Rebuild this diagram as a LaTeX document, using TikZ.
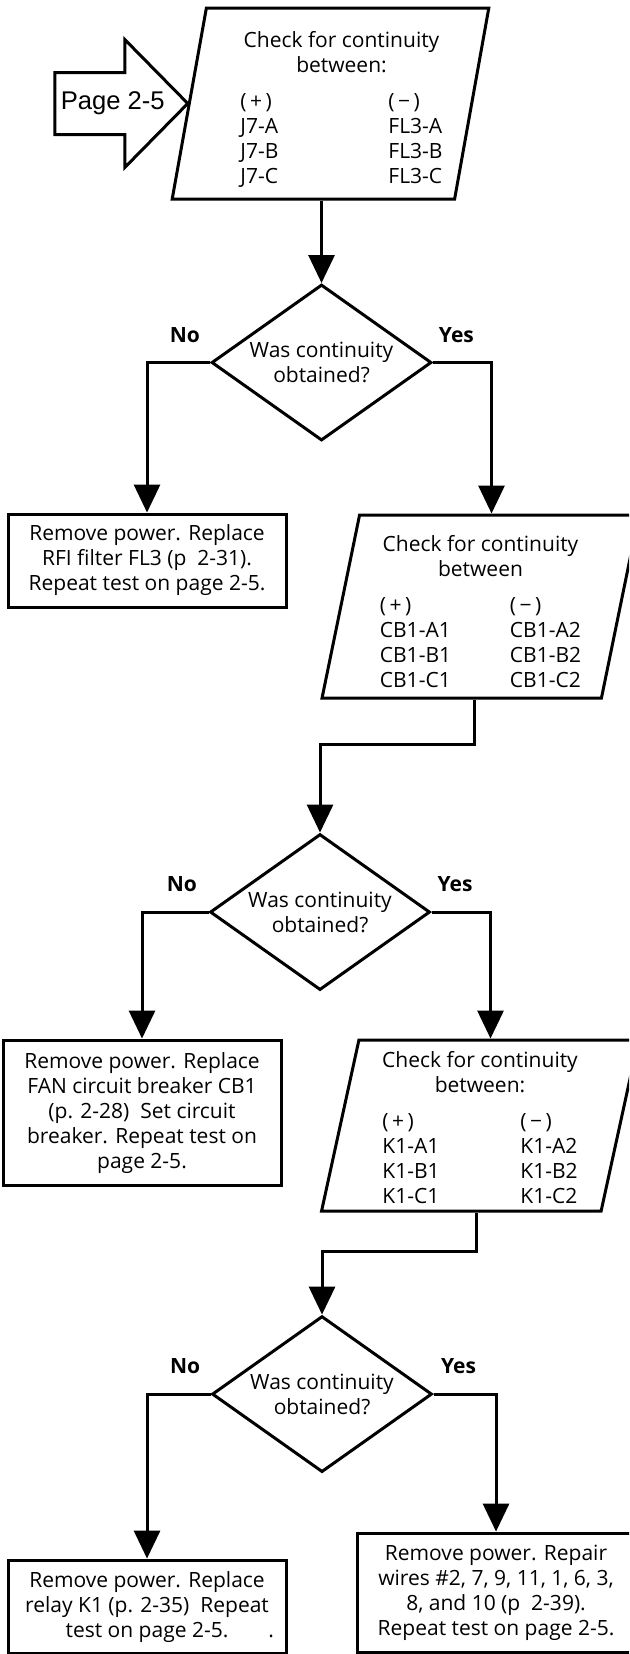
\documentclass[tikz,border=0pt]{standalone}
\usepackage{fontspec}
\setmainfont{Open Sans}
\newfontfamily\pagefont{Liberation Sans}
\usepackage{tikz}
\usetikzlibrary{arrows.meta,positioning,shapes.geometric}
\newcommand{\boxfont}{\fontsize{10.5pt}{12.5pt}\selectfont}
\tikzset{
  checkbox/.style={
    trapezium, trapezium left angle=80, trapezium right angle=100,
    trapezium stretches=true, draw, line width=1.5pt,
    minimum width=158.5pt, minimum height=#1, inner sep=0pt,
    font=\boxfont
  },
  fixbox/.style={
    rectangle, draw, line width=1.5pt, minimum width=139pt, minimum height=#1,
    align=center, inner sep=0pt, font=\boxfont
  },
  decision/.style={
    diamond, aspect=1.41, draw, line width=1.5pt, minimum width=110pt,
    minimum height=78pt, align=center, inner sep=0pt, font=\boxfont
  },
  flowarrow/.style={-{Triangle[length=14pt,width=13pt]}, line width=1.5pt},
  answer/.style={font=\boxfont\bfseries, above=6pt, pos=0.2}
}

\begin{document}
\begin{tikzpicture}
\useasboundingbox (0,0) rectangle (314.5pt,-827pt);
\clip (0,0) rectangle (314.5pt,-827pt);

% checks and decisions down the page
\node[checkbox=95.5pt] (chk1) at (165.25pt,-51.75pt) {\hspace{11pt}\begin{tabular}{@{}c@{}}
  \rule{0pt}{15.75pt}Check for continuity\\ between:\\[5.5pt]
  \begin{tabular}[t]{@{}p{74pt}@{}l@{}}(\,+\,) & (\,−\,)\\ J7-A & FL3-A\\ J7-B & FL3-B\\ J7-C & FL3-C\end{tabular}
  \end{tabular}};
\node[decision, below=41.25pt of chk1, xshift=-4.5pt] (dia1) {Was continuity\\obtained?};
\node[fixbox=46.5pt, below=35.25pt of dia1, xshift=-87.25pt] (fix1) {Remove power. Replace\\RFI filter FL3 (p\ \ 2-31).\\Repeat test on page 2-5.};
\node[checkbox=91.5pt, below=35.75pt of dia1, xshift=79.5pt] (chk2) {\begin{tabular}{@{}c@{}}
  \rule{0pt}{16.75pt}Check for continuity\\ between\\[5.5pt]
  \begin{tabular}[t]{@{}p{65pt}@{}l@{}}(\,+\,) & (\,−\,)\\ CB1-A1 & CB1-A2\\ CB1-B1 & CB1-B2\\ CB1-C1 & CB1-C2\end{tabular}
  \end{tabular}\hspace{6.5pt}};
\node[decision, below=66.5pt of chk2, xshift=-80.25pt] (dia2) {Was continuity\\obtained?};
\node[fixbox=72.5pt, below=23.5pt of dia2, xshift=-89pt] (fix2) {Remove power. Replace\\FAN circuit breaker CB1\\(p. 2-28)\ \ Set circuit\\breaker. Repeat test on\\page 2-5.};
\node[checkbox=85.5pt, below=23.5pt of dia2, xshift=80pt] (chk3) {\begin{tabular}{@{}c@{}}
  \rule{0pt}{13.75pt}Check for continuity\\ between:\\[5.5pt]
  \begin{tabular}[t]{@{}p{69pt}@{}l@{}}(\,+\,) & (\,−\,)\\ K1-A1 & K1-A2\\ K1-B1 & K1-B2\\ K1-C1 & K1-C2\end{tabular}
  \end{tabular}\hspace{3pt}};
\node[decision, below=51pt of chk3, xshift=-79pt] (dia3) {Was continuity\\obtained?};
\node[fixbox=46.5pt, below=42.5pt of dia3, xshift=-87.5pt] (fix3) {Remove power. Replace\\relay K1 (p. 2-35)\ \ Repeat\\test on page 2-5.\rlap{\hspace{20pt}.}};
\node[fixbox=59.5pt, below=29pt of dia3, xshift=87pt] (fix4) {Remove power. Repair\\wires \#2, 7, 9, 11, 1, 6, 3,\\8, and 10 (p\ \ 2-39).\\Repeat test on page 2-5.};

% off-page entry
\draw[line width=1.5pt] (chk1.west) -- ++(-31.5pt,32pt) -- ++(0,-16.5pt) -- ++(-35pt,0)
  -- ++(0,-31pt) -- ++(35pt,0) -- ++(0,-16.5pt) -- cycle;
\node[font=\pagefont\fontsize{12.8pt}{14pt}\selectfont] (pg) at ([xshift=-37.5pt]chk1.west) {Page 2-5};

% connectors
\draw[flowarrow] (chk1.south -| dia1.north) -- (dia1.north);
\draw[flowarrow] (dia1.west) -| node[answer]{No} (fix1.north);
\draw[flowarrow] (dia1.east) -| node[answer]{Yes} ([xshift=5.5pt]chk2.north);
\draw[flowarrow] ([xshift=-3.25pt]chk2.south) -- ++(0,-22.5pt) -| (dia2.north);
\draw[flowarrow] (dia2.west) -| node[answer]{No} (fix2.north);
\draw[flowarrow] (dia2.east) -| node[answer]{Yes} ([xshift=5.25pt]chk3.north);
\draw[flowarrow] ([xshift=-2pt]chk3.south) -- ++(0,-19.5pt) -| (dia3.north);
\draw[flowarrow] (dia3.west) -| node[answer]{No} (fix3.north);
\draw[flowarrow] (dia3.east) -| node[answer]{Yes} (fix4.north);
\end{tikzpicture}
\end{document}
